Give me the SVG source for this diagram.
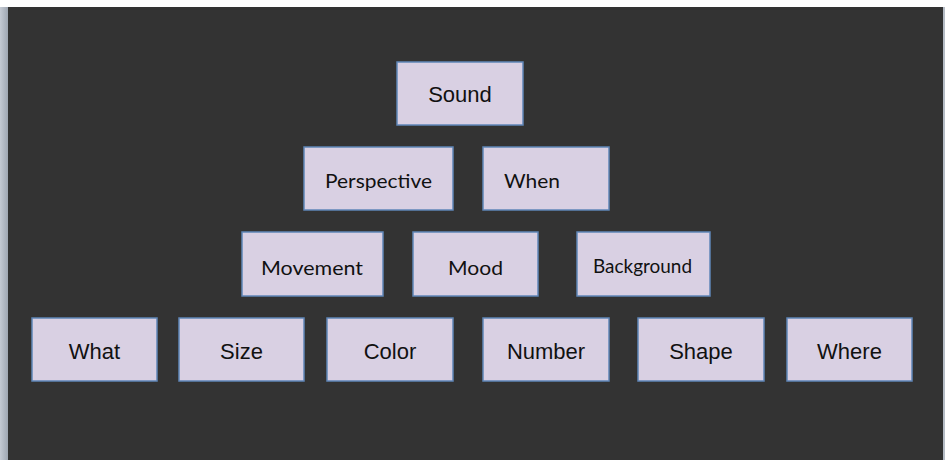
<svg xmlns="http://www.w3.org/2000/svg" width="945" height="460" viewBox="0 0 945 460">
<defs>
<linearGradient id="lg" x1="0" y1="0" x2="1" y2="0">
<stop offset="0" stop-color="#c4cad3"/>
<stop offset="1" stop-color="#9ea6b1"/>
</linearGradient>
<style>
.box{fill:#d9d0e3;stroke:#5f86b8;stroke-width:1.5}
.a{font-family:"Liberation Sans",Arial,sans-serif;font-size:22px;fill:#111;text-anchor:middle}
.c{font-family:Lato,"Open Sans",sans-serif;font-size:19px;fill:#111;text-anchor:middle}
</style>
</defs>
<rect x="0" y="0" width="945" height="460" fill="#ffffff"/>
<rect x="0" y="7" width="8" height="453" fill="url(#lg)"/>
<rect x="8" y="7" width="935" height="453" fill="#333333"/>
<rect x="943" y="7" width="2" height="453" fill="#b5bcc5"/>
<g id="connectors"></g>
<g id="sound"><rect class="box" x="397" y="62" width="126" height="63"/><text class="a" x="460" y="102">Sound</text></g>
<g id="perspective"><rect class="box" x="304" y="147" width="149" height="63"/><text class="c" x="378.5" y="188" textLength="107" lengthAdjust="spacingAndGlyphs">Perspective</text></g>
<g id="when"><rect class="box" x="483" y="147" width="126" height="63"/><text class="c" x="532" y="188" textLength="56" lengthAdjust="spacingAndGlyphs">When</text></g>
<g id="movement"><rect class="box" x="242" y="232" width="141" height="64"/><text class="c" x="312" y="275" textLength="102" lengthAdjust="spacingAndGlyphs">Movement</text></g>
<g id="mood"><rect class="box" x="413" y="232" width="125" height="64"/><text class="c" x="475.5" y="275" textLength="55" lengthAdjust="spacingAndGlyphs">Mood</text></g>
<g id="background"><rect class="box" x="577" y="232" width="133" height="64"/><text class="c" x="642.5" y="273" font-size="16" textLength="99" lengthAdjust="spacingAndGlyphs">Background</text></g>
<g id="what"><rect class="box" x="32" y="318" width="125" height="63"/><text class="a" x="94.5" y="359">What</text></g>
<g id="size"><rect class="box" x="179" y="318" width="125" height="63"/><text class="a" x="241.5" y="359">Size</text></g>
<g id="color"><rect class="box" x="327" y="318" width="126" height="63"/><text class="a" x="390" y="359">Color</text></g>
<g id="number"><rect class="box" x="483" y="318" width="126" height="63"/><text class="a" x="546" y="359">Number</text></g>
<g id="shape"><rect class="box" x="638" y="318" width="126" height="63"/><text class="a" x="701" y="359">Shape</text></g>
<g id="where"><rect class="box" x="787" y="318" width="125" height="63"/><text class="a" x="849.5" y="359">Where</text></g>
</svg>
